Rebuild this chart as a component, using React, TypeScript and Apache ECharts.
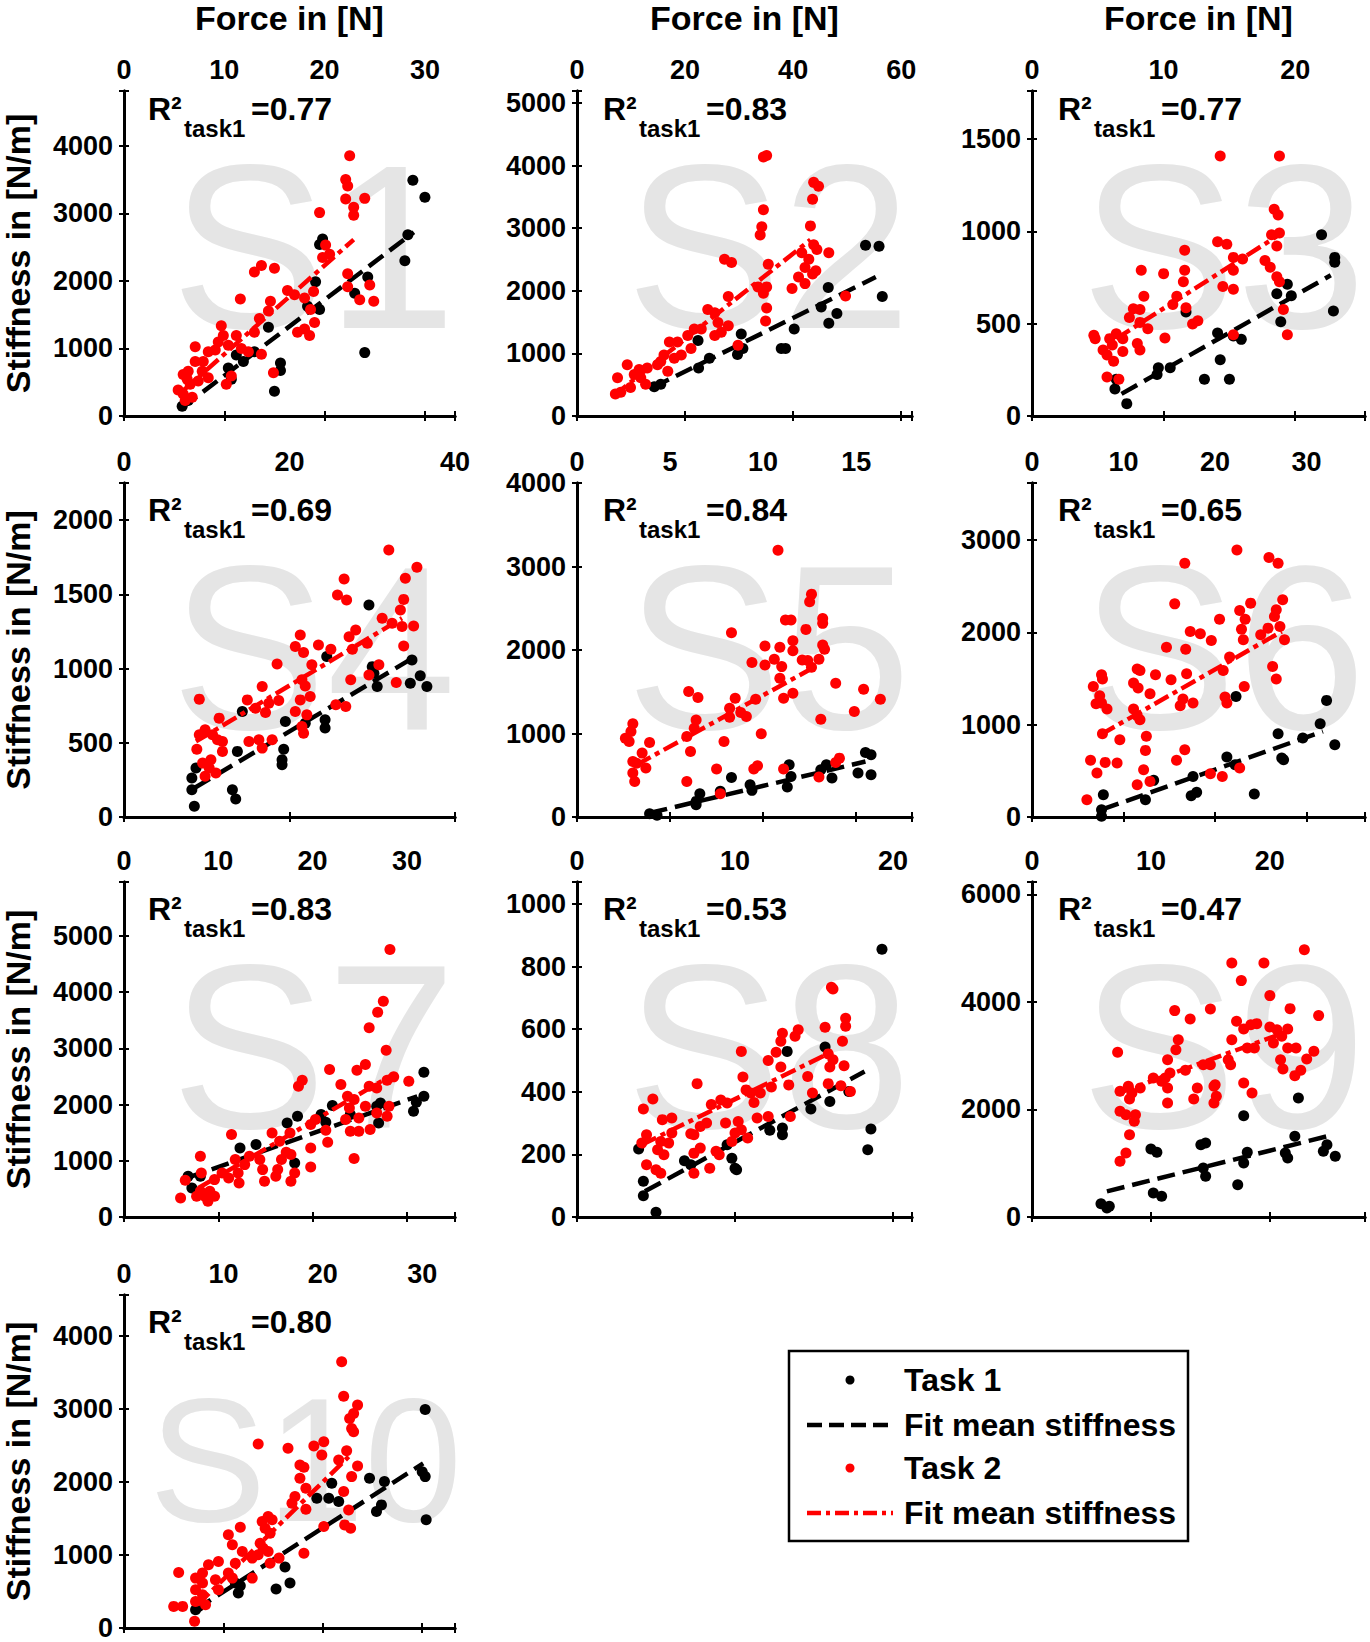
import React, { useEffect, useRef } from "react";
import * as echarts from "echarts";

type Pt = [number, number];

// ---- data ----
const subjects = ["S1", "S2", "S3", "S4", "S5", "S6", "S7", "S8", "S9", "S10"];
const r2Task1 = ["0.77", "0.83", "0.77", "0.69", "0.84", "0.65", "0.83", "0.53", "0.47", "0.80"];

const xMax = [33, 62, 25.3, 40, 18, 36.4, 35.1, 21.2, 28, 33.3];
const xStep = [10, 20, 10, 20, 5, 10, 10, 10, 10, 10];
const yMax = [4810, 5190, 1760, 2250, 4000, 3620, 5960, 1070, 6230, 4560];
const yStep = [1000, 1000, 500, 500, 1000, 1000, 1000, 200, 2000, 1000];

const s1Task1: Pt[] = [[5.8,144],[28.8,3490],[30.0,3236],[28.3,2683],[28.0,2298],[24.0,938],[19.8,2620],[19.5,2538],[19.1,1986],[19.5,1577],[24.3,2058],[23.0,1817],[14.4,1312],[15.0,365],[15.6,784],[15.6,673],[10.7,543],[11.2,904],[10.4,712],[6.4,230],[11.9,808],[18.3,1625],[13.0,952]];
const s1Task2: Pt[] = [[22.5,3851],[22.1,3500],[22.3,3404],[22.1,3212],[24.0,3221],[22.9,3091],[22.9,2971],[19.5,3010],[20.1,2529],[19.8,2346],[20.5,2394],[22.3,2106],[22.3,1913],[24.5,1938],[23.5,1721],[24.9,1697],[13.0,2130],[13.7,2226],[15.0,2188],[11.6,1731],[16.3,1856],[17.0,1793],[18.0,1745],[18.9,1841],[18.6,1577],[19.0,1385],[17.3,1240],[18.0,1288],[18.5,1192],[14.6,1697],[14.4,1553],[13.5,1442],[13.0,1240],[13.7,913],[12.4,952],[11.7,1000],[11.2,1192],[9.7,1337],[9.9,1192],[10.4,1048],[9.1,976],[8.4,952],[7.9,808],[7.1,1024],[10.2,471],[10.7,591],[14.9,639],[7.1,808],[6.4,663],[5.9,615],[5.4,385],[5.9,327],[6.1,231],[6.6,471],[7.4,519],[8.4,567],[6.8,279],[6.3,543],[7.8,663],[9.4,1096]];

const s2Task1: Pt[] = [[53.4,2725],[55.9,2710],[56.5,1907],[46.5,2052],[45.2,1741],[48.1,1637],[46.6,1482],[40.2,1389],[37.8,1078],[38.6,1078],[30.4,1311],[30.7,1078],[29.7,984],[24.5,922],[22.4,1207],[22.5,767],[14.3,466],[15.5,508]];
const s2Task2: Pt[] = [[34.5,4135],[35.1,4161],[34.5,3295],[34.2,3021],[33.9,2891],[43.8,3731],[44.7,3668],[43.6,3461],[43.2,3036],[43.8,2736],[44.4,2658],[41.6,2606],[42.9,2503],[46.6,2606],[44.2,2321],[43.6,2269],[42.2,2373],[41.0,2218],[42.2,2114],[39.8,2036],[49.7,1917],[35.4,2425],[35.1,2062],[34.5,1959],[35.1,1725],[34.9,1518],[33.5,2062],[27.3,2503],[28.6,2451],[28.0,1907],[24.2,1699],[25.5,1648],[26.1,1492],[28.0,1440],[26.7,1337],[25.5,1285],[23.0,1389],[21.7,1389],[20.5,1285],[18.6,1181],[17.1,1181],[19.3,974],[18.0,922],[16.1,974],[15.5,870],[14.9,818],[13.0,767],[11.5,741],[10.6,663],[11.8,611],[12.7,508],[9.3,818],[7.5,611],[9.9,456],[8.1,378],[7.1,352],[29.8,1130],[21.1,1078],[16.8,715]];

const s3Task1: Pt[] = [[22.0,982],[23.0,859],[23.0,833],[22.9,569],[19.4,713],[19.7,651],[18.6,662],[18.9,511],[15.9,415],[15.3,433],[14.1,449],[14.3,305],[13.1,199],[15.0,199],[11.7,563],[10.5,261],[9.6,261],[9.5,225],[6.4,199],[6.3,146],[7.2,67]];
const s3Task2: Pt[] = [[14.3,1408],[18.8,1408],[18.4,1120],[18.7,1088],[18.2,982],[18.8,991],[18.6,921],[17.7,842],[18.1,806],[18.6,754],[18.8,727],[16.0,850],[15.3,859],[14.8,930],[14.1,944],[15.3,789],[14.5,701],[15.3,687],[19.1,577],[19.4,440],[15.3,440],[11.6,898],[11.6,789],[11.5,727],[11.0,648],[10.7,604],[11.7,586],[12.2,498],[12.6,516],[10.0,771],[8.3,789],[8.5,648],[8.2,577],[7.7,581],[7.4,533],[8.2,507],[8.8,472],[8.0,393],[8.2,357],[10.1,423],[6.9,419],[6.4,445],[5.9,419],[6.1,384],[4.7,437],[4.8,419],[5.4,357],[5.7,331],[6.2,296],[6.9,349],[5.7,211],[6.6,199]];

const s4Task1: Pt[] = [[29.6,1428],[24.5,1081],[30.0,1013],[30.2,969],[30.6,879],[34.6,901],[35.8,951],[36.6,879],[34.8,1058],[24.3,655],[24.3,599],[21.9,632],[19.5,643],[19.3,457],[19.1,386],[19.1,352],[14.3,711],[13.7,442],[13.1,184],[13.5,121],[8.7,330],[8.2,262],[8.2,184],[8.5,72]];
const s4Task2: Pt[] = [[32.0,1798],[35.4,1682],[26.6,1603],[26.9,1462],[25.8,1496],[34.0,1608],[33.8,1466],[33.4,1395],[31.2,1339],[32.4,1305],[33.6,1283],[35.0,1287],[33.8,1152],[28.0,1260],[27.2,1215],[29.4,1170],[27.6,1130],[21.3,1226],[20.7,1148],[21.7,1108],[23.5,1159],[25.0,1130],[22.7,1025],[18.5,1031],[27.4,924],[29.6,957],[32.9,906],[30.8,1025],[21.5,924],[21.9,883],[22.5,812],[21.3,789],[20.7,711],[21.5,610],[21.7,565],[22.1,688],[16.7,879],[14.9,789],[15.9,733],[17.1,704],[17.5,767],[18.7,785],[17.9,520],[16.7,464],[16.3,520],[15.1,509],[25.6,756],[26.8,744],[9.1,794],[9.1,554],[8.8,457],[9.8,587],[11.5,666],[10.7,554],[11.3,520],[11.9,442],[9.5,363],[10.5,386],[11.1,296],[9.8,274],[10.3,330],[11.9,509]];

const s5Task1: Pt[] = [[15.5,773],[15.8,745],[15.8,506],[15.1,526],[13.7,466],[13.4,625],[13.1,566],[11.4,625],[11.5,486],[11.3,359],[9.3,386],[9.4,319],[8.3,474],[7.7,307],[6.6,279],[6.4,187],[6.4,147],[3.9,40],[4.3,20]];
const s5Task2: Pt[] = [[10.8,3195],[12.6,2669],[12.5,2578],[11.2,2359],[11.5,2359],[13.2,2378],[13.2,2319],[8.3,2207],[12.3,2247],[11.6,2112],[11.6,1992],[13.2,2060],[13.3,2008],[10.1,2048],[10.9,2032],[12.1,1880],[12.4,1873],[10.6,1888],[10.1,1821],[11.0,1801],[13.0,1888],[12.6,1793],[9.4,1849],[10.9,1661],[13.9,1602],[11.6,1482],[11.1,1422],[15.4,1530],[16.3,1410],[14.9,1263],[13.1,1171],[8.5,1422],[9.6,1410],[6.0,1502],[6.5,1430],[8.2,1303],[8.2,1195],[9.1,1203],[8.8,1251],[9.9,996],[7.9,904],[6.4,1163],[6.3,1064],[5.9,964],[6.1,785],[5.9,426],[9.5,574],[9.7,614],[7.5,574],[7.7,279],[11.1,574],[13.0,478],[14.1,705],[13.9,653],[3.0,1116],[2.9,1024],[2.8,904],[2.6,944],[3.9,892],[3.5,765],[3.0,665],[3.0,526],[3.1,426],[3.7,586],[3.2,645]];

const s6Task1: Pt[] = [[32.2,1264],[31.5,1011],[33.1,783],[26.9,903],[29.6,856],[27.3,639],[27.5,621],[22.3,1307],[21.3,650],[22.2,567],[24.3,249],[17.6,440],[17.4,231],[18.0,267],[13.3,397],[12.4,188],[7.8,242],[7.6,79],[7.6,7]];
const s6Task2: Pt[] = [[22.4,2895],[16.7,2751],[25.9,2812],[26.9,2751],[15.6,2310],[23.9,2318],[27.4,2354],[22.7,2238],[26.7,2245],[26.5,2173],[20.5,2144],[23.3,2144],[17.3,2011],[18.4,1986],[19.6,1913],[25.8,2047],[27.1,2065],[27.6,1921],[25.0,1975],[22.9,2036],[23.1,1921],[14.7,1841],[16.8,1819],[21.6,1733],[20.9,1588],[26.3,1632],[26.7,1495],[23.2,1415],[13.5,1541],[15.2,1487],[11.5,1603],[11.8,1588],[11.1,1451],[11.6,1397],[12.9,1336],[16.9,1552],[16.5,1278],[16.2,1206],[17.6,1235],[21.1,1300],[21.3,1235],[7.6,1541],[7.7,1495],[6.7,1415],[7.4,1314],[7.0,1227],[7.6,1235],[8.2,1170],[11.1,1170],[11.5,1097],[11.8,1054],[7.7,903],[9.6,838],[12.5,874],[12.4,722],[16.7,729],[15.8,614],[6.4,614],[8.0,592],[9.3,585],[7.1,477],[12.2,513],[11.5,350],[12.9,386],[19.5,469],[20.8,440],[22.7,531],[6.0,188]];

const s7Task1: Pt[] = [[31.8,2576],[31.8,2148],[31.0,2042],[30.7,1881],[27.2,2030],[26.8,1970],[27.0,1674],[24.0,1822],[22.1,1982],[20.9,1822],[21.4,1685],[18.4,1792],[17.3,1674],[18.1,961],[14.0,1288],[12.3,1228],[8.1,724],[6.8,724],[7.2,516]];
const s7Task2: Pt[] = [[28.2,4760],[27.5,3840],[26.9,3644],[26.0,3365],[27.8,2967],[21.8,2623],[24.7,2611],[25.6,2712],[28.6,2493],[27.9,2433],[26.8,2297],[26.0,2326],[30.2,2415],[23.0,2356],[18.9,2433],[18.5,2326],[23.7,2148],[24.4,2089],[23.9,1941],[25.6,1970],[28.1,1970],[26.8,1852],[27.9,1792],[24.9,1763],[23.5,1733],[26.1,1555],[24.0,1525],[24.9,1525],[21.4,1543],[21.6,1329],[20.3,1733],[19.8,1644],[17.6,1496],[15.7,1496],[16.5,1347],[24.4,1039],[19.8,1229],[19.8,890],[17.7,1110],[17.2,1151],[16.7,1021],[16.3,843],[16.1,724],[18.1,783],[17.7,635],[14.7,843],[14.9,635],[14.4,1021],[13.3,1080],[12.8,932],[11.8,1021],[11.4,1466],[12.1,783],[12.2,605],[11.1,694],[10.4,783],[9.6,665],[8.2,783],[8.1,1080],[6.5,653],[6.0,338],[8.1,457],[8.6,368],[9.1,457],[9.6,368],[8.9,279],[7.7,368]];

const s8Task1: Pt[] = [[19.3,855],[18.6,281],[18.4,215],[15.7,543],[16.0,369],[17.2,401],[14.8,345],[13.3,529],[13.0,284],[13.0,263],[12.2,277],[9.5,231],[9.8,188],[10.0,156],[10.1,151],[6.8,180],[7.2,167],[3.9,217],[4.2,114],[4.2,68],[5.0,15]];
const s8Task2: Pt[] = [[16.1,734],[16.2,728],[17.0,635],[17.0,609],[15.7,606],[16.8,561],[14.0,598],[13.8,577],[13.0,587],[12.9,561],[12.6,526],[12.1,500],[10.4,529],[12.9,479],[15.9,521],[16.2,502],[16.0,479],[16.9,483],[14.6,449],[13.4,422],[15.9,426],[16.7,419],[17.3,401],[14.9,396],[13.5,321],[12.3,415],[10.5,447],[10.7,406],[11.0,396],[11.6,396],[11.2,366],[11.4,316],[12.1,321],[7.6,426],[9.1,374],[9.5,364],[8.5,359],[10.2,305],[10.4,279],[10.0,268],[10.8,252],[9.8,241],[9.4,300],[8.2,300],[7.8,289],[7.4,263],[7.2,266],[7.8,220],[7.4,204],[8.8,210],[9.0,199],[8.4,156],[7.4,140],[4.8,377],[4.2,345],[4.4,263],[5.4,311],[6.0,316],[6.0,268],[5.3,241],[5.8,236],[5.1,215],[5.5,199],[4.1,236],[4.4,167],[5.0,151],[5.3,140]];

const s9Task1: Pt[] = [[22.4,2213],[17.8,1885],[22.1,1500],[21.5,1097],[21.3,1190],[24.5,1221],[25.5,1128],[24.8,1345],[18.1,1203],[17.8,1004],[17.3,601],[14.6,1376],[14.2,1345],[14.6,756],[14.4,911],[10.0,1265],[10.5,1203],[10.2,446],[10.9,384],[5.8,248],[6.5,198],[6.3,167]];
const s9Task2: Pt[] = [[22.9,4972],[16.8,4724],[19.5,4724],[17.6,4396],[20.0,4117],[21.7,3875],[24.1,3745],[12.0,3838],[15.0,3869],[13.3,3683],[17.2,3639],[17.8,3497],[18.4,3577],[18.9,3596],[20.0,3534],[20.6,3484],[21.5,3497],[21.0,3360],[20.3,3236],[21.5,3143],[22.2,3143],[23.7,3081],[23.1,2939],[20.9,2926],[21.1,2753],[22.6,2728],[22.1,2629],[18.7,3143],[18.1,3143],[16.8,3298],[16.5,2926],[16.7,2833],[15.0,2833],[14.4,2833],[12.3,3298],[12.1,3112],[11.4,2926],[12.9,2728],[11.6,2678],[11.2,2585],[10.2,2585],[10.9,2523],[11.4,2399],[13.9,2399],[13.6,2195],[15.4,2461],[15.3,2430],[15.5,2244],[15.3,2120],[17.8,2492],[18.5,2306],[11.4,2120],[7.2,3063],[7.4,2337],[8.1,2430],[9.1,2399],[8.4,2306],[8.2,2195],[7.4,1965],[7.9,1903],[8.7,1903],[8.6,1779],[8.2,1531],[7.9,1190],[7.4,1035]];

const s10Task1: Pt[] = [[30.3,2993],[30.3,2073],[30.0,2141],[30.4,1481],[26.2,2005],[24.7,2050],[25.9,1686],[25.4,1595],[20.9,1982],[19.4,1777],[20.6,1777],[21.6,1731],[16.2,834],[16.7,615],[15.3,533],[11.7,579],[11.5,478],[11.2,615],[7.5,296],[7.2,251]];
const s10Task2: Pt[] = [[21.9,3645],[22.1,3175],[23.5,3052],[23.1,2938],[22.7,2870],[22.9,2733],[23.1,2688],[13.5,2519],[16.5,2460],[19.1,2492],[20.1,2551],[22.4,2428],[19.9,2369],[21.6,2301],[23.5,2219],[17.7,2232],[18.1,2200],[17.7,2050],[18.3,1913],[22.9,2073],[22.1,1868],[22.6,1617],[22.2,1412],[22.8,1367],[20.1,1390],[18.3,1626],[17.2,1800],[16.9,1708],[18.1,1025],[14.5,1526],[13.9,1458],[14.9,1481],[14.2,1367],[14.7,1298],[13.7,1162],[14.0,1093],[14.5,1048],[14.7,888],[15.6,957],[13.5,1002],[12.9,957],[11.7,1380],[10.5,1276],[10.9,1139],[11.9,1048],[9.5,911],[8.5,866],[11.2,888],[10.5,752],[10.9,683],[12.9,683],[9.2,661],[7.9,752],[7.2,683],[7.9,615],[9.5,524],[7.2,524],[7.9,456],[7.2,364],[8.2,319],[5.5,761],[5.0,296],[5.9,296],[7.1,91]];

const task1Points: Pt[][] = [s1Task1, s2Task1, s3Task1, s4Task1, s5Task1, s6Task1, s7Task1, s8Task1, s9Task1, s10Task1];
const task2Points: Pt[][] = [s1Task2, s2Task2, s3Task2, s4Task2, s5Task2, s6Task2, s7Task2, s8Task2, s9Task2, s10Task2];

// fitted mean stiffness, end points of each straight line
const fitTask1: Pt[][] = [[[5.8,125],[28.9,2720]],[[14.0,456],[55.3,2218]],[[6.8,120],[22.7,762]],[[8.5,195],[35.2,1081]],[[3.9,48],[15.5,665]],[[7.6,79],[31.8,928]],[[6.7,694],[31.1,2148]],[[4.3,82],[18.2,465]],[[6.3,477],[24.8,1500]],[[7.2,251],[30.1,2255]]];
const fitTask2: Pt[][] = [[[5.9,375],[22.9,2611]],[[6.8,326],[43.2,2813]],[[6.4,419],[18.8,982]],[[8.7,509],[33.6,1339]],[[3.2,625],[12.8,1801]],[[7.5,892],[27.3,2011]],[[7.9,516],[28.2,2504]],[[4.1,231],[16.2,529]],[[7.3,2306],[21.9,3484]],[[7.4,319],[22.6,2346]]];

// ---- layout ----
const COL_LEFT = [122, 577, 1032];
const COL_WIDTH = [333, 335, 333];
const ROW_TOP = [82, 483, 882, 1295];
const ROW_HEIGHT = [334, 334, 335, 333];
const FONT = "'Liberation Sans', Arial, sans-serif";
const RED = "#ff0000";
const DASH = [18, 8];
const DASH_DOT = [16, 5, 5, 5];

const tickFmt = (step: number) => (v: number) =>
  Math.abs(v / step - Math.round(v / step)) < 1e-6 ? String(Math.round(v)) : "";

function buildOption() {
  const grid: any[] = [];
  const xAxis: any[] = [];
  const yAxis: any[] = [];
  const series: any[] = [];
  const graphics: any[] = [];

  subjects.forEach((name, i) => {
    const col = i % 3;
    const row = Math.floor(i / 3);
    const left = COL_LEFT[col];
    const top = ROW_TOP[row];
    grid.push({ left, top, width: COL_WIDTH[col], height: ROW_HEIGHT[row] });

    const line = { show: true, lineStyle: { color: "#000", width: 3 } };
    const tick = { show: true, inside: true, length: 5, lineStyle: { color: "#000", width: 2 } };
    const label = { fontFamily: FONT, fontSize: 27, fontWeight: "bold", color: "#000" };

    xAxis.push({
      type: "value", gridIndex: i, position: "top", min: 0, max: xMax[i], interval: xStep[i],
      axisLine: line, axisTick: tick, splitLine: { show: false },
      axisLabel: { ...label, margin: 8, formatter: tickFmt(xStep[i]) },
      name: row === 0 ? "Force in [N]" : "", nameLocation: "middle", nameGap: 56,
      nameTextStyle: { fontFamily: FONT, fontSize: 34, fontWeight: "bold", color: "#000" },
    });
    xAxis.push({
      type: "value", gridIndex: i, position: "bottom", min: 0, max: xMax[i], interval: xStep[i],
      axisLine: line, axisTick: tick, splitLine: { show: false }, axisLabel: { show: false },
    });
    yAxis.push({
      type: "value", gridIndex: i, position: "left", min: 0, max: yMax[i], interval: yStep[i],
      axisLine: line, axisTick: tick, splitLine: { show: false },
      axisLabel: { ...label, margin: 11, formatter: tickFmt(yStep[i]) },
      name: col === 0 ? "Stiffness in [N/m]" : "", nameLocation: "middle", nameRotate: 90, nameGap: 89,
      nameTextStyle: { fontFamily: FONT, fontSize: 34, fontWeight: "bold", color: "#000" },
    });
    yAxis.push({
      type: "value", gridIndex: i, position: "right", min: 0, max: yMax[i], interval: yStep[i],
      axisLine: line, axisTick: tick, splitLine: { show: false }, axisLabel: { show: false },
    });

    const xi = 2 * i;
    series.push(
      { type: "scatter", xAxisIndex: xi, yAxisIndex: xi, data: task1Points[i], symbolSize: 11,
        itemStyle: { color: "#000", opacity: 1 }, z: 2 },
      { type: "line", xAxisIndex: xi, yAxisIndex: xi, data: fitTask1[i], showSymbol: false, symbol: "none",
        lineStyle: { color: "#000", width: 4.5, type: DASH }, z: 3 },
      { type: "scatter", xAxisIndex: xi, yAxisIndex: xi, data: task2Points[i], symbolSize: 11,
        itemStyle: { color: RED, opacity: 1 }, z: 4 },
      { type: "line", xAxisIndex: xi, yAxisIndex: xi, data: fitTask2[i], showSymbol: false, symbol: "none",
        lineStyle: { color: RED, width: 4.5, type: DASH_DOT }, z: 5 },
    );

    // big subject watermark, sits behind the R² note as in the figure
    const big = name.length > 2;
    graphics.push({
      type: "text", z: 1, x: left + (big ? 27 : 49), y: top + 165,
      style: { text: name, fontFamily: FONT, fontSize: big ? 176 : 233, lineHeight: big ? 130 : 170,
        fill: "#e5e5e5", align: "left", verticalAlign: "middle" },
    });
    // R² annotation
    const t = { fontFamily: FONT, fontWeight: "bold", fill: "#000", align: "left", verticalAlign: "middle" };
    graphics.push(
      { type: "text", z: 10, x: left + 26, y: top + 27, style: { ...t, text: "R²", fontSize: 32 } },
      { type: "text", z: 10, x: left + 62, y: top + 46, style: { ...t, text: "task1", fontSize: 24 } },
      { type: "text", z: 10, x: left + 129, y: top + 27, style: { ...t, text: "=" + r2Task1[i], fontSize: 32 } },
    );
  });

  // legend box
  const lt = { fontFamily: FONT, fontWeight: "bold", fontSize: 32, fill: "#000", align: "left", verticalAlign: "middle" };
  graphics.push(
    { type: "rect", z: 10, shape: { x: 789, y: 1351, width: 399, height: 190 },
      style: { fill: "#fff", stroke: "#000", lineWidth: 2.5 } },
    { type: "circle", z: 11, shape: { cx: 850, cy: 1380, r: 4.5 }, style: { fill: "#000" } },
    { type: "line", z: 11, shape: { x1: 807, y1: 1425, x2: 893, y2: 1425 },
      style: { stroke: "#000", lineWidth: 4.5, lineDash: [15, 7] } },
    { type: "circle", z: 11, shape: { cx: 850, cy: 1468, r: 4.5 }, style: { fill: RED } },
    { type: "line", z: 11, shape: { x1: 807, y1: 1513, x2: 893, y2: 1513 },
      style: { stroke: RED, lineWidth: 4.5, lineDash: [14, 5, 4, 5] } },
    { type: "text", z: 11, x: 904, y: 1380, style: { ...lt, text: "Task 1" } },
    { type: "text", z: 11, x: 904, y: 1425, style: { ...lt, text: "Fit mean stiffness" } },
    { type: "text", z: 11, x: 904, y: 1468, style: { ...lt, text: "Task 2" } },
    { type: "text", z: 11, x: 904, y: 1513, style: { ...lt, text: "Fit mean stiffness" } },
  );

  return {
    animation: false,
    backgroundColor: "#fff",
    grid,
    xAxis,
    yAxis,
    series,
    graphic: { elements: graphics },
  };
}

export default function App() {
  const chartRef = useRef<HTMLDivElement>(null);

  useEffect(() => {
    document.body.style.margin = "0";
    if (!chartRef.current) return;
    const chart = echarts.init(chartRef.current, null, { renderer: "svg" });
    chart.setOption(buildOption());
    return () => {
      chart.dispose();
    };
  }, []);

  return <div ref={chartRef} style={{ width: 1370, height: 1642 }} />;
}
